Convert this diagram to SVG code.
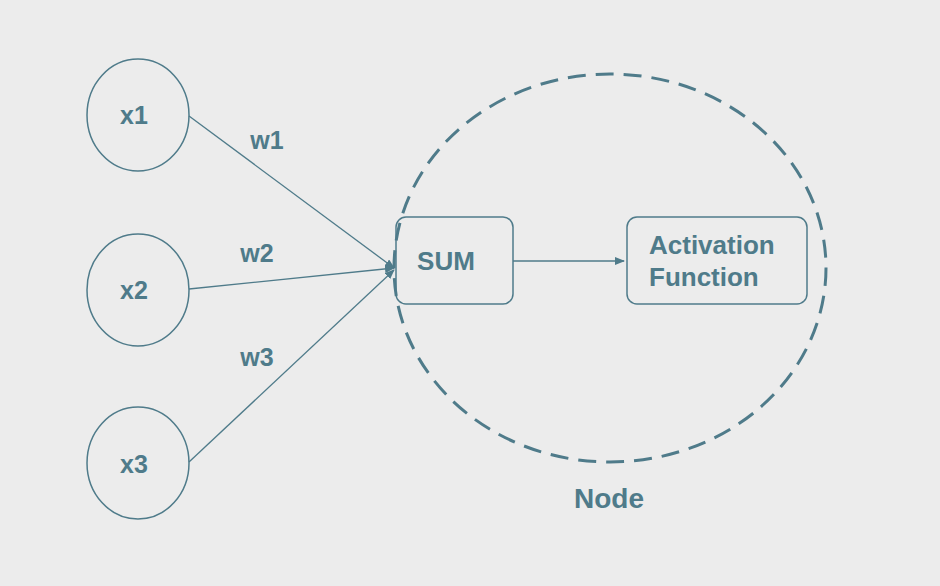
<svg xmlns="http://www.w3.org/2000/svg" width="940" height="586" viewBox="0 0 940 586">
<defs>
<style>
.n{fill:none;stroke:#4f7b8a;stroke-width:1.5}
.t{font-family:"Liberation Sans",Arial,sans-serif;font-weight:bold;font-size:25px;fill:#4f7b8a}
.e{stroke:#4f7b8a;stroke-width:1.3;fill:none}
</style>
<marker id="ah" markerWidth="10" markerHeight="8" refX="9" refY="4" orient="auto" markerUnits="userSpaceOnUse">
<path d="M0,0 L10,4 L0,8 Z" fill="#4f7b8a"/>
</marker>
</defs>
<rect width="940" height="586" fill="#ececec"/>
<g id="node-group">
<ellipse cx="610" cy="268" rx="216" ry="194" fill="none" stroke="#4f7b8a" stroke-width="3" stroke-dasharray="18,10"/>
<text class="t" x="609" y="508" text-anchor="middle" style="font-size:28px">Node</text>
</g>
<g id="connectors">
<line class="e" x1="189" y1="116" x2="394" y2="268" marker-end="url(#ah)"/>
<line class="e" x1="189" y1="289" x2="394" y2="268" marker-end="url(#ah)"/>
<line class="e" x1="189" y1="462" x2="394" y2="270" marker-end="url(#ah)"/>
<line class="e" x1="513" y1="261" x2="624" y2="261" marker-end="url(#ah)"/>
<text class="t" x="267" y="149" text-anchor="middle">w1</text>
<text class="t" x="257" y="262" text-anchor="middle">w2</text>
<text class="t" x="257" y="366" text-anchor="middle">w3</text>
</g>
<g id="x1"><ellipse class="n" cx="138" cy="115" rx="51" ry="56"/><text class="t" x="134" y="124" text-anchor="middle">x1</text></g>
<g id="x2"><ellipse class="n" cx="138" cy="290" rx="51" ry="56"/><text class="t" x="134" y="299" text-anchor="middle">x2</text></g>
<g id="x3"><ellipse class="n" cx="138" cy="463" rx="51" ry="56"/><text class="t" x="134" y="473" text-anchor="middle">x3</text></g>
<g id="sum"><rect class="n" x="396" y="217" width="117" height="87" rx="10"/><text class="t" x="446" y="270" text-anchor="middle" style="font-size:26px">SUM</text></g>
<g id="activation"><rect class="n" x="627" y="217" width="180" height="87" rx="10"/><text class="t" x="649" y="254" style="font-size:26px">Activation</text><text class="t" x="649" y="286" style="font-size:26px">Function</text></g>
</svg>
